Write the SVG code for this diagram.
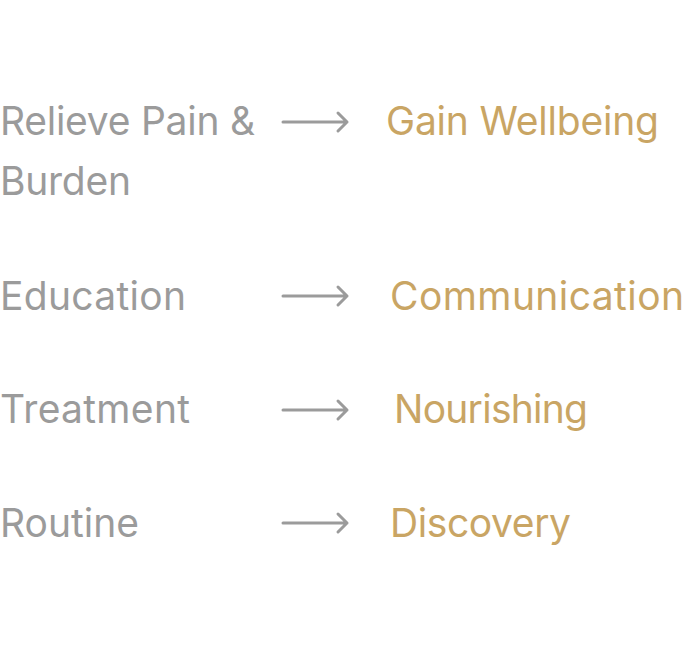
<svg xmlns="http://www.w3.org/2000/svg" width="690" height="645" viewBox="0 0 690 645">
<style>
text{font-family:Inter,"Liberation Sans",sans-serif;font-size:39px}
.l{fill:#9b9b9b}
.r{fill:#c9a564}
.a{stroke:#9b9b9b;stroke-width:3;fill:none;stroke-linecap:round;stroke-linejoin:round}
</style>
<rect width="690" height="645" fill="#fff"/>
<g id="left1"><text class="l" x="0" y="135" textLength="255">Relieve Pain &amp;</text><text class="l" x="0" y="195" textLength="131">Burden</text></g>
<g id="right1"><text class="r" x="386" y="135" textLength="273">Gain Wellbeing</text></g>
<g id="left2"><text class="l" x="0" y="310" textLength="186">Education</text></g>
<g id="right2"><text class="r" x="390" y="310" textLength="294">Communication</text></g>
<g id="left3"><text class="l" x="0" y="423" textLength="190">Treatment</text></g>
<g id="right3"><text class="r" x="394" y="423" textLength="194">Nourishing</text></g>
<g id="left4"><text class="l" x="0" y="537" textLength="139">Routine</text></g>
<g id="right4"><text class="r" x="390" y="537" textLength="181">Discovery</text></g>
<g id="connectors">
<path class="a" d="M283 122H347M338 113L347 122L338 131"/>
<path class="a" d="M283 296H347M338 287L347 296L338 305"/>
<path class="a" d="M283 410H347M338 401L347 410L338 419"/>
<path class="a" d="M283 523H347M338 514L347 523L338 532"/>
</g>
</svg>
